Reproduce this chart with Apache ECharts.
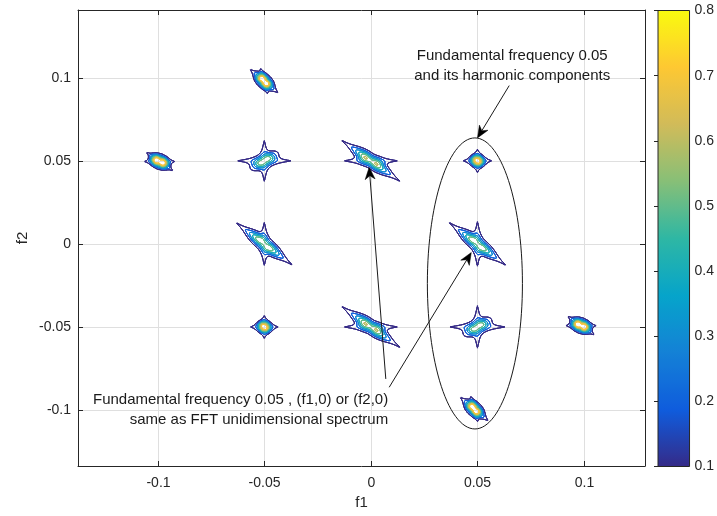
<!DOCTYPE html>
<html>
<head>
<meta charset="utf-8">
<script src="https://cdn.jsdelivr.net/npm/echarts@6/dist/echarts.min.js"></script>
<style>
  html, body { margin: 0; padding: 0; background: #fff; }
  #chart { width: 717px; height: 516px; }
</style>
</head>
<body>
<div id="chart"></div>
<script>
// ---- 2-D spectrum peaks in the (f1, f2) plane ----
const peakF1 = [-0.0991, -0.0501, -0.0500, 0.0000, -0.0500, 0.0500, 0.0500, -0.0500, 0.0000, 0.0500, 0.0986, 0.0485];
const peakF2 = [0.0496, 0.0980, 0.0500, 0.0500, 0.0000, 0.0500, 0.0000, -0.0500, -0.0500, -0.0500, -0.0492, -0.0994];
const peakAmp = [0.78, 0.78, 0.56, 0.53, 0.53, 0.78, 0.53, 0.78, 0.53, 0.56, 0.78, 0.78];
// main lobe orientation (deg) and size
const coreAngle = [-25, -40, 30, -35, -37, -20, -37, -20, -35, 30, -25, -40];
const coreLen = [0.0027, 0.0027, 0.0040, 0.0055, 0.0055, 0.0018, 0.0055, 0.0018, 0.0055, 0.0040, 0.0027, 0.0027];
const coreWid = [0.0017, 0.0016, 0.0017, 0.0018, 0.0018, 0.0015, 0.0018, 0.0015, 0.0018, 0.0017, 0.0017, 0.0016];
// leakage spikes: direction (deg) and reach of each spike
const armAngle = [[0, -35], [-40, -75], [0, 90], [0, -35], [-37, 90], [0, 90], [-37, 90], [0, 90], [0, -35], [0, 90], [0, -35], [-40, -75]];
const armReach = [[0.0062, 0.0062], [0.0079, 0.0052], [0.0123, 0.0094], [0.0122, 0.0156], [0.0153, 0.0099], [0.0065, 0.0053],
                  [0.0154, 0.0103], [0.0063, 0.0051], [0.0122, 0.0156], [0.0127, 0.0098], [0.0062, 0.0062], [0.0079, 0.0052]];
const ARM_AMP = 0.17;
const ARM_W = 0.0021;

// contour levels and tick values
const levels = [0.1, 0.2, 0.3, 0.4, 0.5, 0.6, 0.7];
const cbarTicks = [0.1, 0.2, 0.3, 0.4, 0.5, 0.6, 0.7, 0.8];
const xTicks = [-0.1, -0.05, 0, 0.05, 0.1];
const yTicks = [-0.1, -0.05, 0, 0.05, 0.1];
const xTickLabels = ['-0.1', '-0.05', '0', '0.05', '0.1'];
const yTickLabels = ['-0.1', '-0.05', '0', '0.05', '0.1'];

// annotations (data coordinates)
const noteTopText = 'Fundamental frequency 0.05\nand its harmonic components';
const noteTopAt = [0.0663, 0.1073];
const noteBottomText = 'Fundamental frequency 0.05 , (f1,0) or (f2,0)\nsame as FFT unidimensional spectrum';
const noteBottomAt = [0.0081, -0.1002];
const arrowFrom = [[0.0070, -0.0813], [0.0086, -0.0863], [0.0649, 0.0953]];
const arrowTo = [[-0.0008, 0.0461], [0.0471, -0.0052], [0.0500, 0.0638]];
const ellipseCenter = [0.0488, -0.0238];
const ellipseRadius = [0.0223, 0.0876];

// ---- axes layout ----
const X_MIN = -0.1374, X_MAX = 0.1286, Y_MIN = -0.1337, Y_MAX = 0.1408;
const GRID = { left: 78, top: 10, width: 567, height: 456 };
const pxPerF1 = GRID.width / (X_MAX - X_MIN);
const pxPerF2 = GRID.height / (Y_MAX - Y_MIN);
const ratio = pxPerF2 / pxPerF1;   // shapes are modelled in screen-proportional units

// parula colormap
const parula = ['#352a87', '#0f5cdd', '#1481d6', '#06a4ca', '#2eb7a4', '#87bf77', '#d1bb59', '#fec832', '#f9fb0e'];
function hexToRgb(h) { return [parseInt(h.slice(1, 3), 16), parseInt(h.slice(3, 5), 16), parseInt(h.slice(5, 7), 16)]; }
function parulaAt(t) {
  t = Math.max(0, Math.min(1, t));
  const p = t * (parula.length - 1);
  const i = Math.min(parula.length - 2, Math.floor(p));
  const f = p - i;
  const a = hexToRgb(parula[i]), b = hexToRgb(parula[i + 1]);
  const c = a.map((v, k) => Math.round(v + (b[k] - v) * f));
  return 'rgb(' + c.join(',') + ')';
}
const CMIN = 0.1, CMAX = 0.8;

// ---- spectrum magnitude around one peak ----
function peakField(k, u, v) {
  const a = coreAngle[k] * Math.PI / 180;
  const ca = Math.cos(a), sa = Math.sin(a);
  const al = u * ca + v * sa, ac = -u * sa + v * ca;
  let val = peakAmp[k] * Math.exp(-al * al / (2 * coreLen[k] * coreLen[k]) - ac * ac / (2 * coreWid[k] * coreWid[k]));
  for (let j = 0; j < armAngle[k].length; j++) {
    const b = armAngle[k][j] * Math.PI / 180;
    const R = armReach[k][j];
    const cb = Math.cos(b), sb = Math.sin(b);
    const s = u * cb + v * sb, n = -u * sb + v * cb;
    const t = Math.min(1, Math.abs(s) / R);
    const w = ARM_W * (1 - 0.78 * t);
    const L = R / 1.03;
    const c0 = 0.15 * R;
    const hollow = 1 - Math.exp(-s * s / (2 * c0 * c0));   // spikes leave the main lobe untouched
    val += ARM_AMP * hollow * Math.exp(-s * s / (2 * L * L) - n * n / (2 * w * w));
  }
  return val;
}

// marching squares edge table: edges 0=bottom,1=right,2=top,3=left
const MS = [[], [[0, 3]], [[0, 1]], [[1, 3]], [[1, 2]], [[0, 3], [1, 2]], [[0, 2]], [[2, 3]],
            [[2, 3]], [[0, 2]], [[0, 1], [2, 3]], [[1, 2]], [[1, 3]], [[0, 1]], [[0, 3]], []];

const HALF = 0.019, STEP = 0.0002;
const N = Math.round(2 * HALF / STEP) + 1;
const contourItems = [];   // {peak, level, segs:[[f1,f2,f1,f2],...]}
for (let k = 0; k < peakF1.length; k++) {
  const vals = new Float64Array(N * N);
  for (let j = 0; j < N; j++) {
    const v = -HALF + j * STEP;
    for (let i = 0; i < N; i++) vals[j * N + i] = peakField(k, -HALF + i * STEP, v);
  }
  levels.forEach(level => {
    const segs = [];
    for (let j = 0; j < N - 1; j++) {
      for (let i = 0; i < N - 1; i++) {
        const a = vals[j * N + i], b = vals[j * N + i + 1], c = vals[(j + 1) * N + i + 1], d = vals[(j + 1) * N + i];
        const idx = (a >= level ? 1 : 0) | (b >= level ? 2 : 0) | (c >= level ? 4 : 0) | (d >= level ? 8 : 0);
        if (idx === 0 || idx === 15) continue;
        const x0 = -HALF + i * STEP, y0 = -HALF + j * STEP;
        const edge = e => {
          if (e === 0) return [x0 + STEP * (level - a) / (b - a), y0];
          if (e === 1) return [x0 + STEP, y0 + STEP * (level - b) / (c - b)];
          if (e === 2) return [x0 + STEP * (level - d) / (c - d), y0 + STEP];
          return [x0, y0 + STEP * (level - a) / (d - a)];
        };
        MS[idx].forEach(pair => {
          const p = edge(pair[0]), q = edge(pair[1]);
          segs.push([peakF1[k] + p[0], peakF2[k] + p[1] / ratio, peakF1[k] + q[0], peakF2[k] + q[1] / ratio]);
        });
      }
    }
    if (segs.length) contourItems.push({ peak: k, level: level, segs: segs });
  });
}

const FONT = "'Liberation Sans', Arial, Helvetica, sans-serif";
const AX = '#262626';
const GRIDLINE = '#dfdfdf';
const TICK = 5;

const chart = echarts.init(document.getElementById('chart'), null, { renderer: 'canvas' });

const plainAxis = {
  gridIndex: 0, type: 'value',
  axisLine: { show: true, onZero: false, lineStyle: { color: AX, width: 1 } },
  axisTick: { show: false }, axisLabel: { show: false }, splitLine: { show: false }
};

chart.setOption({
  animation: false,
  backgroundColor: '#ffffff',
  textStyle: { fontFamily: FONT },
  grid: [
    { left: GRID.left, top: GRID.top, width: GRID.width, height: GRID.height, containLabel: false },
    { left: 658, top: 10.5, width: 34, height: 456, containLabel: false }
  ],
  xAxis: [
    Object.assign({}, plainAxis, {
      min: X_MIN, max: X_MAX, position: 'bottom',
      name: 'f1', nameLocation: 'middle', nameGap: 29,
      nameTextStyle: { color: AX, fontSize: 15, fontFamily: FONT }
    }),
    Object.assign({}, plainAxis, { min: X_MIN, max: X_MAX, position: 'top' }),
    { type: 'value', gridIndex: 1, min: 0, max: 1, show: false }
  ],
  yAxis: [
    Object.assign({}, plainAxis, {
      min: Y_MIN, max: Y_MAX, position: 'left',
      name: 'f2', nameLocation: 'middle', nameGap: 48, nameRotate: 90,
      nameTextStyle: { color: AX, fontSize: 15, fontFamily: FONT }
    }),
    Object.assign({}, plainAxis, { min: Y_MIN, max: Y_MAX, position: 'right' }),
    {
      type: 'value', gridIndex: 1, min: cbarTicks[0], max: cbarTicks[cbarTicks.length - 1], interval: 0.1,
      position: 'right',
      axisLine: { show: false },
      axisTick: { show: true, inside: true, length: 4, lineStyle: { color: AX } },
      axisLabel: { color: AX, fontSize: 14, fontFamily: FONT, margin: 5, formatter: v => (Math.round(v * 10) / 10).toFixed(1) },
      splitLine: { show: false }
    }
  ],
  series: [
    {
      // grid lines, tick marks and tick labels of the spectrum axes
      type: 'custom',
      xAxisIndex: 0, yAxisIndex: 0,
      silent: true, z: 1,
      clip: false,
      data: [[0, 0]],
      renderItem: function (params, api) {
        const ch = [];
        const top = GRID.top, bottom = GRID.top + GRID.height;
        const left = GRID.left, right = GRID.left + GRID.width;
        xTicks.forEach((t, i) => {
          const x = Math.round(api.coord([t, 0])[0]) + 0.5;
          ch.push({ type: 'line', shape: { x1: x, y1: top, x2: x, y2: bottom }, style: { stroke: GRIDLINE, lineWidth: 1 } });
          ch.push({ type: 'line', shape: { x1: x, y1: bottom, x2: x, y2: bottom - TICK }, style: { stroke: AX, lineWidth: 1 } });
          ch.push({ type: 'line', shape: { x1: x, y1: top, x2: x, y2: top + TICK }, style: { stroke: AX, lineWidth: 1 } });
          ch.push({ type: 'text', style: { text: xTickLabels[i], x: x, y: bottom + 10, align: 'center', verticalAlign: 'top', font: '14px ' + FONT, fill: AX } });
        });
        yTicks.forEach((t, i) => {
          const y = Math.round(api.coord([0, t])[1]) + 0.5;
          ch.push({ type: 'line', shape: { x1: left, y1: y, x2: right, y2: y }, style: { stroke: GRIDLINE, lineWidth: 1 } });
          ch.push({ type: 'line', shape: { x1: left, y1: y, x2: left + TICK, y2: y }, style: { stroke: AX, lineWidth: 1 } });
          ch.push({ type: 'line', shape: { x1: right, y1: y, x2: right - TICK, y2: y }, style: { stroke: AX, lineWidth: 1 } });
          ch.push({ type: 'text', style: { text: yTickLabels[i], x: left - 7, y: y, align: 'right', verticalAlign: 'middle', font: '14px ' + FONT, fill: AX } });
        });
        return { type: 'group', children: ch };
      }
    },
    {
      // contour lines of the 2-D spectrum
      type: 'custom',
      xAxisIndex: 0, yAxisIndex: 0,
      silent: true, z: 3,
      data: contourItems.map(it => [peakF1[it.peak], peakF2[it.peak], it.level]),
      renderItem: function (params, api) {
        const it = contourItems[params.dataIndex];
        let d = '';
        for (const s of it.segs) {
          const p = api.coord([s[0], s[1]]), q = api.coord([s[2], s[3]]);
          d += 'M' + p[0].toFixed(2) + ' ' + p[1].toFixed(2) + 'L' + q[0].toFixed(2) + ' ' + q[1].toFixed(2);
        }
        return {
          type: 'path',
          shape: { pathData: d },
          style: { stroke: parulaAt((it.level - CMIN) / (CMAX - CMIN)), fill: null, lineWidth: 1, lineCap: 'round', lineJoin: 'round' },
          z2: Math.round(it.level * 10)
        };
      }
    },
    {
      // ellipse, arrows and notes
      type: 'custom',
      xAxisIndex: 0, yAxisIndex: 0,
      silent: true, z: 5,
      data: [[ellipseCenter[0], ellipseCenter[1]]],
      renderItem: function (params, api) {
        const children = [];
        const pts = [];
        for (let i = 0; i <= 120; i++) {
          const t = i / 120 * Math.PI * 2;
          pts.push(api.coord([ellipseCenter[0] + ellipseRadius[0] * Math.cos(t), ellipseCenter[1] + ellipseRadius[1] * Math.sin(t)]));
        }
        children.push({ type: 'polyline', shape: { points: pts }, style: { stroke: '#1a1a1a', lineWidth: 1, fill: null } });
        for (let i = 0; i < arrowFrom.length; i++) {
          const a = api.coord(arrowFrom[i]), b = api.coord(arrowTo[i]);
          const dx = b[0] - a[0], dy = b[1] - a[1];
          const len = Math.hypot(dx, dy);
          const ux = dx / len, uy = dy / len, nx = -uy, ny = ux;
          const HL = 12, HW = 5;
          const back = [b[0] - ux * HL, b[1] - uy * HL];
          const mid = [b[0] - ux * HL * 0.7, b[1] - uy * HL * 0.7];
          children.push({ type: 'line', shape: { x1: a[0], y1: a[1], x2: mid[0], y2: mid[1] }, style: { stroke: '#1a1a1a', lineWidth: 1 } });
          children.push({
            type: 'polygon',
            shape: { points: [b, [back[0] + nx * HW, back[1] + ny * HW], mid, [back[0] - nx * HW, back[1] - ny * HW]] },
            style: { fill: '#000', stroke: '#000', lineWidth: 0.5 }
          });
        }
        const t1 = api.coord(noteTopAt), t2 = api.coord(noteBottomAt);
        children.push({
          type: 'text',
          style: { text: noteTopText, x: t1[0], y: t1[1], align: 'center', verticalAlign: 'middle', font: '15px ' + FONT, fill: '#1a1a1a', lineHeight: 20 }
        });
        children.push({
          type: 'text',
          style: { text: noteBottomText, x: t2[0], y: t2[1], align: 'right', verticalAlign: 'middle', font: '15px ' + FONT, fill: '#1a1a1a', lineHeight: 20 }
        });
        return { type: 'group', children: children };
      }
    },
    {
      // colour bar
      type: 'custom',
      xAxisIndex: 2, yAxisIndex: 2,
      silent: true,
      data: [[0, cbarTicks[0]]],
      renderItem: function (params, api) {
        const p0 = api.coord([0, cbarTicks[cbarTicks.length - 1]]);
        const p1 = api.coord([1, cbarTicks[0]]);
        const stops = [];
        for (let i = 0; i <= 64; i++) stops.push({ offset: i / 64, color: parulaAt(i / 64) });
        return {
          type: 'rect',
          shape: { x: p0[0], y: p0[1], width: p1[0] - p0[0], height: p1[1] - p0[1] },
          style: { fill: { type: 'linear', x: 0, y: 1, x2: 0, y2: 0, colorStops: stops }, stroke: AX, lineWidth: 1 }
        };
      }
    }
  ]
});
</script>
</body>
</html>
